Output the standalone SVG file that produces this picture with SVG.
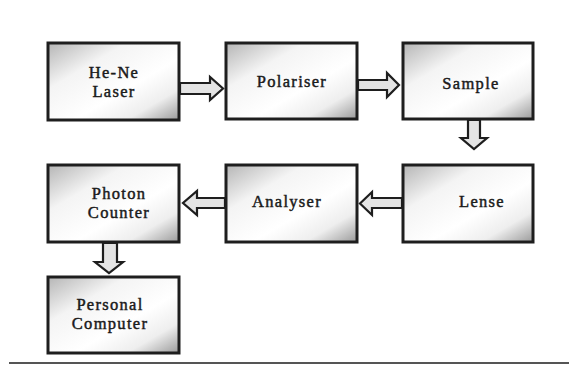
<svg xmlns="http://www.w3.org/2000/svg" width="576" height="367" viewBox="0 0 576 367">
<style>
.box{fill:url(#shade);stroke:#1e1e1e;stroke-width:3}
.lbl{font-family:"Liberation Serif","Times New Roman",serif;font-size:16.5px;letter-spacing:1.3px;fill:#1a1a1a;stroke:#1a1a1a;stroke-width:0.45;text-anchor:middle}
.arr{fill:#e4e4e4;stroke:#1e1e1e;stroke-width:2.2;stroke-linejoin:miter}
</style>
<defs>
<linearGradient id="shade" x1="0" y1="0" x2="1" y2="1">
<stop offset="0" stop-color="#b5b5b5"/>
<stop offset="0.3" stop-color="#f4f4f4"/>
<stop offset="0.6" stop-color="#ffffff"/>
<stop offset="0.8" stop-color="#eeeeee"/>
<stop offset="1" stop-color="#9a9a9a"/>
</linearGradient>
</defs>
<rect width="576" height="367" fill="#ffffff"/>
<g id="laser"><rect class="box" x="48" y="43" width="131" height="77"/><text class="lbl" x="114" y="78">He-Ne</text><text class="lbl" x="114" y="97">Laser</text></g>
<g id="polariser"><rect class="box" x="226" y="43" width="131" height="76"/><text class="lbl" x="292" y="87">Polariser</text></g>
<g id="sample"><rect class="box" x="403" y="43" width="130" height="76"/><text class="lbl" x="471" y="89">Sample</text></g>
<g id="photon"><rect class="box" x="48" y="165" width="131" height="77"/><text class="lbl" x="119" y="199">Photon</text><text class="lbl" x="119" y="218">Counter</text></g>
<g id="analyser"><rect class="box" x="226" y="165" width="131" height="77"/><text class="lbl" x="287" y="207">Analyser</text></g>
<g id="lense"><rect class="box" x="403" y="165" width="130" height="77"/><text class="lbl" x="482" y="207">Lense</text></g>
<g id="computer"><rect class="box" x="48" y="277" width="131" height="76"/><text class="lbl" x="110" y="310">Personal</text><text class="lbl" x="110" y="329">Computer</text></g>
<g id="connectors">
<polygon class="arr" points="180,83 210,83 210,77 223,88.5 210,100 210,94 180,94"/>
<polygon class="arr" points="358,80 387,80 387,73 399,85 387,97 387,90 358,90"/>
<polygon class="arr" points="468,120 480,120 480,138 487,138 474,149 461,138 468,138"/>
<polygon class="arr" points="225,198 197,198 197,191 183,203 197,215 197,208 225,208"/>
<polygon class="arr" points="402,198 372,198 372,192 360,203.5 372,215 372,208 402,208"/>
<polygon class="arr" points="103,243 117,243 117,262 123,262 109,273 95,262 103,262"/>
</g>
<line x1="9" y1="363" x2="569" y2="363" stroke="#555" stroke-width="2"/>
</svg>
